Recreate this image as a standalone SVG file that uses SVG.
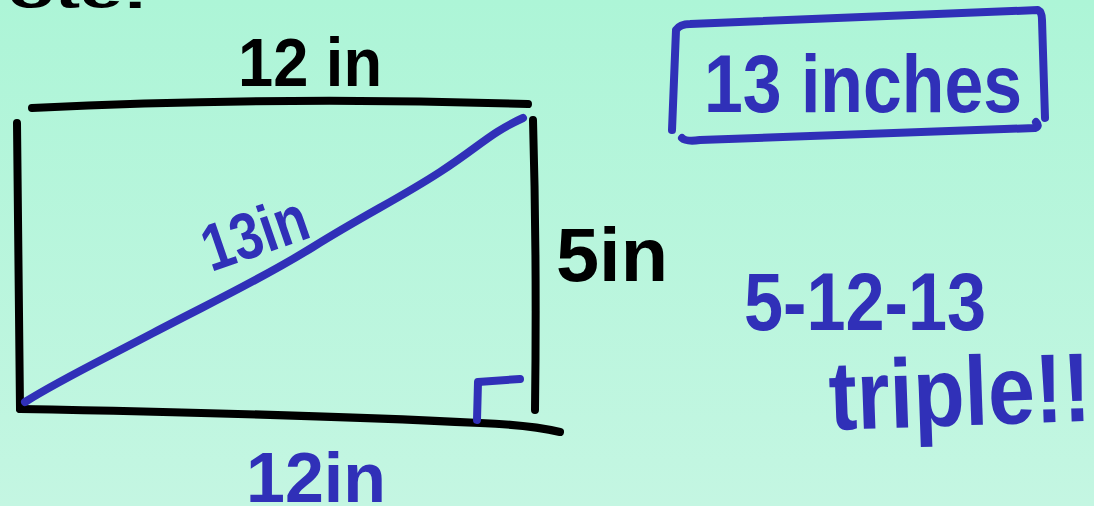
<svg xmlns="http://www.w3.org/2000/svg" width="1094" height="506" viewBox="0 0 1094 506">
  <defs>
    <linearGradient id="bg" x1="0" y1="0" x2="0" y2="1">
      <stop offset="0" stop-color="#adf5d7"/>
      <stop offset="1" stop-color="#c4f6e2"/>
    </linearGradient>
    <style>
      .ink { fill: none; stroke: #000; stroke-width: 8; stroke-linecap: round; stroke-linejoin: round; }
      .blue { fill: none; stroke: #3030b8; stroke-width: 8; stroke-linecap: round; stroke-linejoin: round; }
      .tb { font-family: "Liberation Sans", Arial, sans-serif; font-weight: bold; fill: #000; }
      .tu { font-family: "Liberation Sans", Arial, sans-serif; font-weight: bold; fill: #3030b8; }
    </style>
  </defs>
  <rect width="1094" height="506" fill="url(#bg)"/>

  <g id="header">
    <text class="tb" x="8" y="8" font-size="46" textLength="140" lengthAdjust="spacingAndGlyphs">ote:</text>
  </g>

  <g id="rectangle">
    <path class="ink" d="M32 108 Q 280 96 528 104"/>
    <path class="ink" d="M17 123 L 20 409"/>
    <path class="ink" d="M20 409 Q 300 414 480 423 Q 530 425 560 432"/>
    <path class="ink" d="M533 120 Q 537 260 535 410"/>
  </g>

  <g id="connectors">
    <path class="blue" d="M25 402 C 60 380, 96 363, 153 333 S 260 280, 313 247 S 400 198, 440 172 S 490 133, 523 118" stroke-width="9"/>
    <path class="blue" d="M477 420 L 478 382 L 520 379"/>
  </g>

  <g id="label-top">
    <text class="tb" x="238" y="86" font-size="68" textLength="144" lengthAdjust="spacingAndGlyphs">12 in</text>
  </g>
  <g id="label-diagonal">
    <text class="tu" font-size="66" textLength="108" lengthAdjust="spacingAndGlyphs" transform="translate(211 272) rotate(-19)" x="0" y="0">13in</text>
  </g>
  <g id="label-right">
    <text class="tb" x="556" y="281" font-size="76" textLength="112" lengthAdjust="spacingAndGlyphs">5in</text>
  </g>
  <g id="label-bottom">
    <text class="tu" x="246" y="502" font-size="70" textLength="140" lengthAdjust="spacingAndGlyphs">12in</text>
  </g>

  <g id="answer">
    <path class="blue" d="M672 130 L 676 30 Q 680 24 690 24 L 1038 10 Q 1042 12 1042 20 L 1045 118"/>
    <path class="blue" d="M682 138 Q 686 142 700 140 L 1035 128 Q 1040 126 1036 122"/>
    <text class="tu" x="704" y="112" font-size="82" textLength="318" lengthAdjust="spacingAndGlyphs">13 inches</text>
  </g>

  <g id="triple-note">
    <text class="tu" x="744" y="330" font-size="82" textLength="242" lengthAdjust="spacingAndGlyphs">5-12-13</text>
    <text class="tu" x="830" y="430" font-size="98" textLength="262" lengthAdjust="spacingAndGlyphs" transform="rotate(-2 830 430)">triple!!</text>
  </g>
</svg>
